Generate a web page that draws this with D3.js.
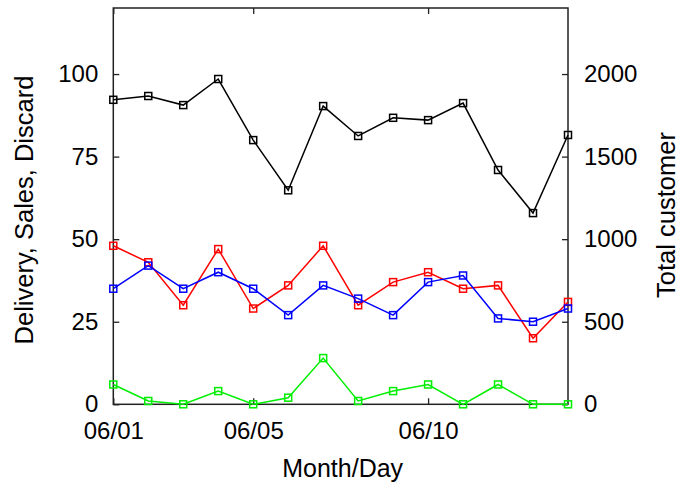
<!DOCTYPE html>
<html>
<head>
<meta charset="utf-8">
<script src="https://cdn.jsdelivr.net/npm/d3@7"></script>
<style>
  body { margin: 0; background: #fff; }
  svg { display: block; font-family: "Liberation Sans", Arial, sans-serif; }
</style>
</head>
<body>
<div id="chart"></div>
<script>
// data
const days = ["06/01","06/02","06/03","06/04","06/05","06/06","06/07","06/08","06/09","06/10","06/11","06/12","06/13","06/14"];
const customers = [1844, 1867, 1812, 1970, 1600, 1296, 1806, 1625, 1735, 1721, 1824, 1419, 1158, 1631];
const delivery = [48, 43, 30, 47, 29, 36, 48, 30, 37, 40, 35, 36, 20, 31];
const sales = [35, 42, 35, 40, 35, 27, 36, 32, 27, 37, 39, 26, 25, 29];
const discard = [6, 1, 0, 4, 0, 2, 14, 1, 4, 6, 0, 6, 0, 0];
const xTicks = ["06/01", "06/05", "06/10"];
const leftTicks = [0, 25, 50, 75, 100];
const rightTicks = [0, 500, 1000, 1500, 2000];

const width = 681, height = 482;
const margin = {left: 113.3, right: 681 - 568, top: 8, bottom: 482 - 404.3};

const parse = d3.timeParse("%m/%d");
const fmt = d3.timeFormat("%m/%d");
const dates = days.map(parse);

const x = d3.scaleTime()
    .domain(d3.extent(dates))
    .range([margin.left, width - margin.right]);
const yL = d3.scaleLinear().domain([0, 120]).range([height - margin.bottom, margin.top]);
const yR = d3.scaleLinear().domain([0, 2400]).range([height - margin.bottom, margin.top]);

const svg = d3.select("#chart").append("svg")
    .attr("width", width)
    .attr("height", height);

const tickLen = 6;
const fs = 24;

// axes, ticks pointing inward
const gx = svg.append("g")
    .attr("transform", `translate(0,${yL(0)})`)
    .call(d3.axisBottom(x).tickValues(xTicks.map(parse)).tickFormat(fmt).tickSizeInner(-tickLen).tickSizeOuter(0).tickPadding(18));
const gxTop = svg.append("g")
    .attr("transform", `translate(0,${margin.top})`)
    .call(d3.axisTop(x).tickValues(xTicks.map(parse)).tickFormat("").tickSizeInner(-tickLen).tickSizeOuter(0));
const gl = svg.append("g")
    .attr("transform", `translate(${x.range()[0]},0)`)
    .call(d3.axisLeft(yL).tickValues(leftTicks).tickSizeInner(-tickLen).tickSizeOuter(0).tickPadding(15));
const gr = svg.append("g")
    .attr("transform", `translate(${x.range()[1]},0)`)
    .call(d3.axisRight(yR).tickValues(rightTicks).tickFormat(d3.format("d")).tickSizeInner(-tickLen).tickSizeOuter(0).tickPadding(16));

[gx, gxTop, gl, gr].forEach(g => {
  g.select(".domain").remove();
  g.selectAll(".tick line").attr("stroke", "#222").attr("stroke-width", 1.3);
  g.selectAll("text").attr("font-size", fs).attr("fill", "#000").attr("font-family", "Liberation Sans, Arial, sans-serif");
});
gx.selectAll("text").attr("dy", "0.71em");

// frame
svg.append("rect")
    .attr("x", x.range()[0])
    .attr("y", margin.top)
    .attr("width", x.range()[1] - x.range()[0])
    .attr("height", yL(0) - margin.top)
    .attr("fill", "none")
    .attr("stroke", "#222")
    .attr("stroke-width", 1.5);

// axis titles
svg.append("text")
    .attr("x", (x.range()[0] + x.range()[1]) / 2 + 2)
    .attr("y", 477)
    .attr("text-anchor", "middle")
    .attr("font-size", 25)
    .text("Month/Day");

svg.append("text")
    .attr("transform", `translate(33,210) rotate(-90)`)
    .attr("text-anchor", "middle")
    .attr("font-size", 25.5)
    .text("Delivery, Sales, Discard");

svg.append("text")
    .attr("transform", `translate(675,215) rotate(-90)`)
    .attr("text-anchor", "middle")
    .attr("font-size", 25.5)
    .text("Total customer");

// series
const series = [
  {values: customers, y: yR, color: "#000000"},
  {values: delivery, y: yL, color: "#ff0000"},
  {values: sales, y: yL, color: "#0000ff"},
  {values: discard, y: yL, color: "#00ee00"}
];

const ms = 7;
series.forEach(s => {
  const pts = dates.map((d, i) => [x(d), s.y(s.values[i])]);
  svg.append("path")
      .attr("d", d3.line()(pts))
      .attr("fill", "none")
      .attr("stroke", s.color)
      .attr("stroke-width", 1.5);
  svg.append("g").selectAll("rect")
    .data(pts)
    .join("rect")
      .attr("x", d => d[0] - ms / 2)
      .attr("y", d => d[1] - ms / 2)
      .attr("width", ms)
      .attr("height", ms)
      .attr("fill", "none")
      .attr("stroke", s.color)
      .attr("stroke-width", 1.5);
});
</script>
</body>
</html>
